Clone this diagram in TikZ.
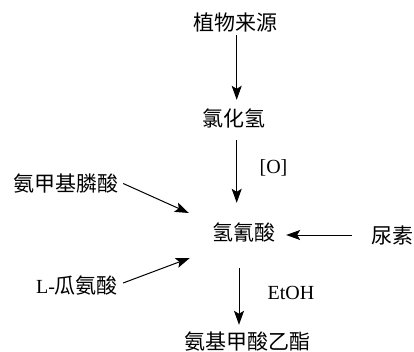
\documentclass[tikz,border=0pt]{standalone}
\usepackage{fontspec}
\setmainfont{Liberation Serif}
\newfontfamily\cjk{Noto Sans CJK SC}
\usetikzlibrary{arrows.meta}
\begin{document}
\begin{tikzpicture}[x=1pt,y=-1pt,
  lbl/.style={inner sep=0pt, font=\fontsize{21}{21}\selectfont\cjk, text height=18pt, text depth=2pt},
  lat/.style={inner sep=0pt, font=\fontsize{20}{20}\selectfont, text height=18pt, text depth=2pt},
  arr/.style={line width=1pt, -{Stealth[length=14pt,width=10pt,inset=3pt]}}]
\useasboundingbox[fill=white] (0,0) rectangle (414,351);
\node[lbl] (src) at (235.5,22.5) {植物来源};
\node[lbl] (hcl) at (233.5,118) {氯化氢};
\node[lat] (ox) at (273.5,165.5) {[O]};
\node[lbl] (amp) at (65.5,183.5) {氨甲基膦酸};
\node[lbl] (hcn) at (243.5,232.5) {氢氰酸};
\node[lbl] (urea) at (392,235) {尿素};
\node[lat] (cit) at (77,285) {L-{\cjk\fontsize{21}{21}\selectfont 瓜氨酸}};
\node[lat] (etoh) at (291,291.5) {EtOH};
\node[lbl] (prod) at (247,341) {氨基甲酸乙酯};
\draw[arr, shorten <=2.5pt, shorten >=8pt] ([xshift=1.2pt]src.south) -- ([xshift=1.2pt]src.south |- hcl.north);
\draw[arr, shorten <=12pt, shorten >=19.5pt] ([xshift=3.2pt]hcl.south) -- ([xshift=3.2pt]hcl.south |- hcn.north);
\draw[arr, shorten <=25.5pt, shorten >=6pt] ([xshift=-4.5pt]hcn.south) -- ([xshift=-4.5pt]hcn.south |- prod.north);
\draw[arr] ([xshift=5pt]amp.east) -- ([xshift=-23pt,yshift=19.5pt]hcn.west);
\draw[arr] ([xshift=5pt,yshift=2pt]cit.east) -- ([xshift=-22pt,yshift=-25.5pt]hcn.west);
\draw[arr, shorten <=19pt, shorten >=11pt] (urea.west) -- (urea.west -| hcn.east);
\end{tikzpicture}
\end{document}
